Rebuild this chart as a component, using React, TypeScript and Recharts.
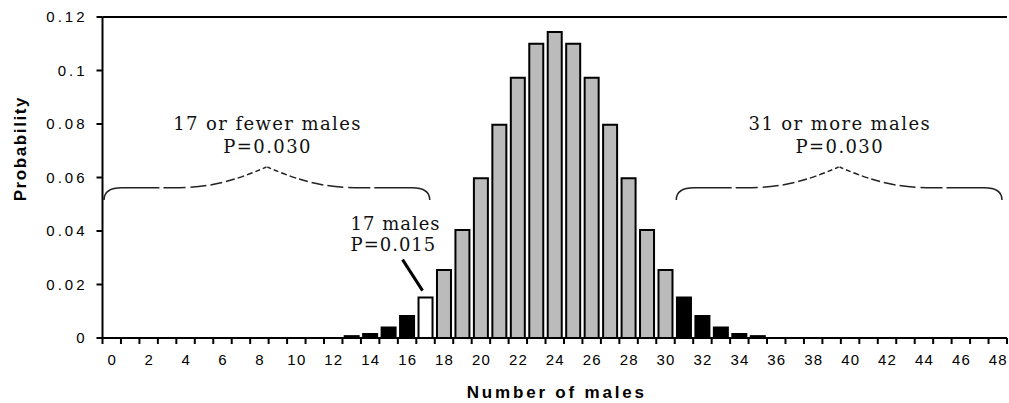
import React from 'react';
import { BarChart, Bar, XAxis, YAxis, Cell, ReferenceArea, ReferenceDot, ReferenceLine } from 'recharts';

// ---- data ----
const MALES = [
  0, 1, 2, 3, 4, 5, 6, 7, 8, 9, 10, 11, 12, 13, 14, 15, 16, 17, 18, 19, 20, 21, 22, 23, 24,
  25, 26, 27, 28, 29, 30, 31, 32, 33, 34, 35, 36, 37, 38, 39, 40, 41, 42, 43, 44, 45, 46, 47, 48,
];
const PROBABILITY = [
  0, 0, 0, 0, 0, 0, 0, 0, 0, 0, 0, 0, 0, 0.0007, 0.0015, 0.0039, 0.0082, 0.0151, 0.0254, 0.0404,
  0.0597, 0.0797, 0.0973, 0.110, 0.1144, 0.110, 0.0973, 0.0797, 0.0597, 0.0404, 0.0254, 0.0151,
  0.0082, 0.0039, 0.0015, 0.0007, 0, 0, 0, 0, 0, 0, 0, 0, 0, 0, 0, 0, 0,
];
const Y_TICKS = [0, 0.02, 0.04, 0.06, 0.08, 0.1, 0.12];
const LOWER_TAIL_MAX = 17; // 17 or fewer
const UPPER_TAIL_MIN = 31; // 31 or more
const HIGHLIGHT = 17;
const LOWER_LABEL = ['17 or fewer males', 'P=0.030'];
const UPPER_LABEL = ['31 or more males', 'P=0.030'];
const HIGHLIGHT_LABEL = ['17 males', 'P=0.015'];
const BRACE_BOTTOM = 0.0516;
const BRACE_TOP = 0.064;

const data = MALES.map((k, i) => ({ k, p: PROBABILITY[i] }));

const W = 1009;
const H = 403;
const SANS = '"Liberation Sans", Arial, sans-serif';
const SERIF = '"DejaVu Serif", serif';

const barFill = (k: number) => {
  if (k === HIGHLIGHT) return '#ffffff';
  if (k < LOWER_TAIL_MAX || k >= UPPER_TAIL_MIN) return '#000000';
  return '#bbbbbb';
};

const XTick = (props: any) => {
  const { x, y, payload, index } = props;
  const half = payload && payload.offset ? payload.offset : 18.46 / 2;
  const v = payload.value;
  return (
    <g>
      <line x1={x - half} x2={x - half} y1={y} y2={y + 6} stroke="#000" strokeWidth={2} />
      {index === MALES.length - 1 && (
        <line x1={x + half} x2={x + half} y1={y} y2={y + 6} stroke="#000" strokeWidth={2} />
      )}
      {v % 2 === 0 && (
        <text x={x + 0.6} y={y + 27} textAnchor="middle" fontFamily={SANS} fontSize={15} fill="#000" letterSpacing={1.2}>
          {v}
        </text>
      )}
    </g>
  );
};

const DASH = '62 4 22 5 16 4 12 4 9 3 7 3 6 3 5 3 4 3 4 3 4 3 4 3 4 3 4 3 4 3';

const makeBrace = (lines: string[]) => (props: any) => {
  const { x, y, width, height } = props;
  const L = x + 1.5;
  const R = x + width - 5;
  const cx = (L + R) / 2;
  const yb = y + height;
  const yt = y;
  const yf = yb - 12.3;
  const left = `M ${L} ${yb} C ${L} ${yb - 8} ${L + 6} ${yf} ${L + 18} ${yf} L ${L + 75} ${yf} C ${L + 110} ${yf} ${cx - 25} ${yf - 10} ${cx} ${yt}`;
  const right = `M ${R} ${yb} C ${R} ${yb - 8} ${R - 6} ${yf} ${R - 18} ${yf} L ${R - 75} ${yf} C ${R - 110} ${yf} ${cx + 25} ${yf - 10} ${cx} ${yt}`;
  return (
    <g>
      <path d={left} fill="none" stroke="#222" strokeWidth={1.5} strokeDasharray={DASH} />
      <path d={right} fill="none" stroke="#222" strokeWidth={1.5} strokeDasharray={DASH} />
      <text x={cx + 0.7} y={yt - 37} textAnchor="middle" fontFamily={SERIF} fontSize={18} letterSpacing={1.4} fill="#111">
        {lines[0]}
      </text>
      <text x={cx + 0.7} y={yt - 14} textAnchor="middle" fontFamily={SERIF} fontSize={18} letterSpacing={1.4} fill="#111">
        {lines[1]}
      </text>
    </g>
  );
};

const HighlightNote = (props: any) => {
  const { cx, cy } = props;
  if (cx == null || cy == null) return null;
  return (
    <g>
      <line x1={cx - 23} y1={cy - 38} x2={cx - 3} y2={cy - 7} stroke="#000" strokeWidth={3} />
      <text x={cx - 75} y={cy - 68} fontFamily={SERIF} fontSize={18} letterSpacing={1} fill="#111">
        {HIGHLIGHT_LABEL[0]}
      </text>
      <text x={cx - 75} y={cy - 47} fontFamily={SERIF} fontSize={18} letterSpacing={1} fill="#111">
        {HIGHLIGHT_LABEL[1]}
      </text>
    </g>
  );
};

const YLabel = (props: any) => {
  const vb = props.viewBox || { x: 0, y: 17, width: 102, height: 321 };
  const cx = 26;
  const cy = vb.y + vb.height * 0.41;
  return (
    <text
      x={cx}
      y={cy}
      transform={`rotate(-90 ${cx} ${cy})`}
      textAnchor="middle"
      fontFamily={SANS}
      fontWeight="bold"
      fontSize={17}
      letterSpacing={1.6}
      fill="#000"
    >
      Probability
    </text>
  );
};

const XLabel = (props: any) => {
  const vb = props.viewBox || { x: 102, y: 338, width: 905, height: 65 };
  return (
    <text
      x={vb.x + vb.width / 2 + 2}
      y={vb.y + 60}
      textAnchor="middle"
      fontFamily={SANS}
      fontWeight="bold"
      fontSize={17}
      letterSpacing={2.8}
      fill="#000"
    >
      Number of males
    </text>
  );
};

export default function App() {
  return (
    <div style={{ position: 'absolute', left: 0, top: 0, width: W, height: H, background: '#fff' }}>
      <BarChart
        width={W}
        height={H}
        data={data}
        margin={{ top: 17, right: 2, bottom: 0, left: 0 }}
        barCategoryGap="12%"
      >
        <XAxis
          dataKey="k"
          type="category"
          interval={0}
          height={65}
          tickLine={false}
          tickSize={0}
          tickMargin={0}
          axisLine={{ stroke: '#000', strokeWidth: 2 }}
          tick={<XTick />}
          label={<XLabel />}
        />
        <YAxis
          type="number"
          domain={[0, 0.12]}
          ticks={Y_TICKS}
          width={102.5}
          interval={0}
          tickSize={6}
          tickMargin={9}
          tickLine={{ stroke: '#000', strokeWidth: 2 }}
          axisLine={{ stroke: '#000', strokeWidth: 2 }}
          tick={{ fontFamily: SANS, fontSize: 15, fill: '#000', letterSpacing: 3 }}
          label={<YLabel />}
        />
        <ReferenceLine y={0.12} stroke="#000" strokeWidth={2} />
        <Bar dataKey="p" isAnimationActive={false} stroke="#000" strokeWidth={2}>
          {data.map((d) => (
            <Cell key={d.k} fill={barFill(d.k)} />
          ))}
        </Bar>
        <ReferenceArea
          x1={MALES[0]}
          x2={LOWER_TAIL_MAX}
          y1={BRACE_BOTTOM}
          y2={BRACE_TOP}
          shape={makeBrace(LOWER_LABEL)}
        />
        <ReferenceArea
          x1={UPPER_TAIL_MIN}
          x2={MALES[MALES.length - 1]}
          y1={BRACE_BOTTOM}
          y2={BRACE_TOP}
          shape={makeBrace(UPPER_LABEL)}
        />
        <ReferenceDot
          x={HIGHLIGHT}
          y={PROBABILITY[HIGHLIGHT]}
          r={0}
          shape={<HighlightNote />}
        />
      </BarChart>
    </div>
  );
}
